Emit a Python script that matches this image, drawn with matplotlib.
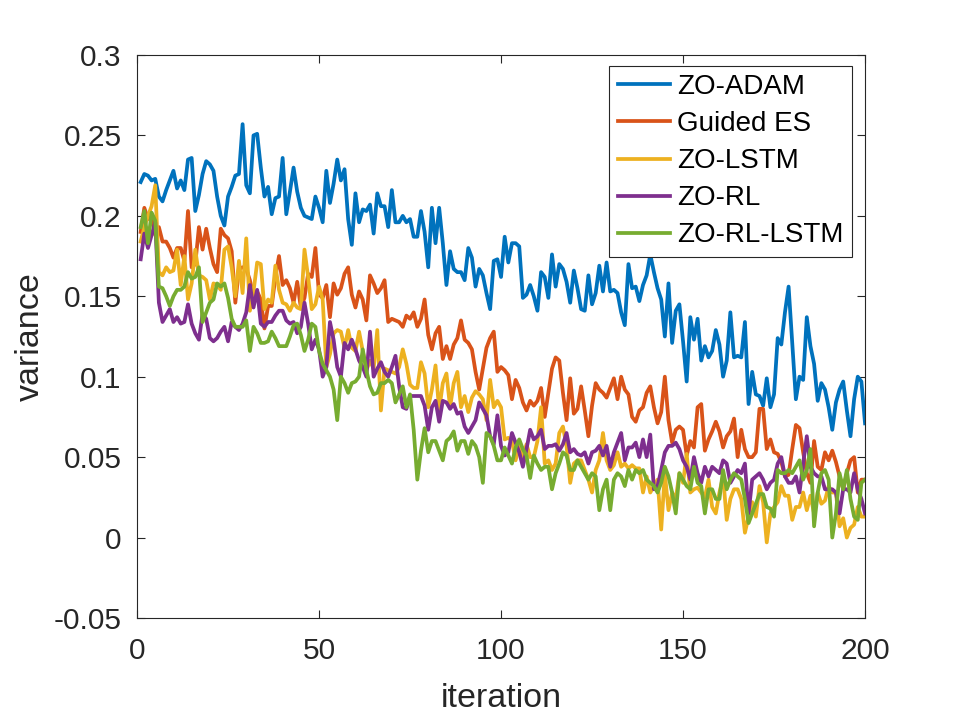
import numpy as np
import matplotlib
matplotlib.use("Agg")
import matplotlib.pyplot as plt
from matplotlib.ticker import FormatStrFormatter

plt.rcParams['font.family'] = ['Liberation Sans', 'DejaVu Sans']

iters = np.arange(1, 201)

zo_adam = [
    0.221, 0.226, 0.225, 0.222, 0.223, 0.212, 0.209, 0.216, 0.222, 0.228,
    0.217, 0.222, 0.216, 0.235, 0.236, 0.203, 0.213, 0.226, 0.234, 0.232,
    0.228, 0.212, 0.200, 0.194, 0.212, 0.218, 0.225, 0.226, 0.257, 0.219,
    0.214, 0.250, 0.251, 0.230, 0.212, 0.218, 0.201, 0.211, 0.212, 0.236,
    0.201, 0.215, 0.230, 0.215, 0.205, 0.200, 0.199, 0.198, 0.212, 0.205,
    0.196, 0.228, 0.208, 0.220, 0.235, 0.222, 0.229, 0.198, 0.182, 0.214,
    0.196, 0.204, 0.203, 0.207, 0.189, 0.214, 0.206, 0.206, 0.193, 0.216,
    0.196, 0.196, 0.200, 0.196, 0.198, 0.187, 0.187, 0.203, 0.190, 0.168,
    0.205, 0.183, 0.205, 0.183, 0.157, 0.178, 0.167, 0.165, 0.165, 0.160,
    0.180, 0.174, 0.156, 0.167, 0.163, 0.152, 0.142, 0.172, 0.173, 0.162,
    0.187, 0.171, 0.183, 0.183, 0.181, 0.149, 0.151, 0.157, 0.150, 0.141,
    0.165, 0.162, 0.149, 0.176, 0.156, 0.170, 0.167, 0.159, 0.146, 0.166,
    0.155, 0.142, 0.141, 0.163, 0.145, 0.152, 0.169, 0.153, 0.171, 0.153,
    0.154, 0.152, 0.140, 0.132, 0.170, 0.155, 0.156, 0.147, 0.157, 0.163,
    0.176, 0.165, 0.155, 0.148, 0.125, 0.158, 0.121, 0.141, 0.145, 0.122,
    0.097, 0.137, 0.123, 0.136, 0.110, 0.119, 0.112, 0.116, 0.129, 0.120,
    0.100, 0.110, 0.140, 0.112, 0.113, 0.112, 0.134, 0.083, 0.103, 0.089,
    0.088, 0.082, 0.099, 0.081, 0.089, 0.124, 0.120, 0.140, 0.156, 0.121,
    0.086, 0.100, 0.098, 0.137, 0.119, 0.108, 0.085, 0.096, 0.092, 0.081,
    0.067, 0.084, 0.092, 0.097, 0.079, 0.063, 0.086, 0.100, 0.097, 0.071,
]

guided_es = [
    0.190, 0.205, 0.198, 0.200, 0.188, 0.193, 0.184, 0.184, 0.180, 0.174,
    0.180, 0.180, 0.172, 0.203, 0.168, 0.170, 0.193, 0.179, 0.192, 0.180,
    0.170, 0.165, 0.192, 0.188, 0.186, 0.178, 0.146, 0.167, 0.168, 0.167,
    0.160, 0.150, 0.153, 0.148, 0.130, 0.144, 0.144, 0.162, 0.175, 0.157,
    0.160, 0.155, 0.146, 0.159, 0.143, 0.149, 0.164, 0.162, 0.180, 0.151,
    0.149, 0.157, 0.137, 0.158, 0.151, 0.155, 0.164, 0.168, 0.151, 0.143,
    0.153, 0.148, 0.135, 0.163, 0.158, 0.152, 0.155, 0.160, 0.134, 0.136,
    0.135, 0.134, 0.131, 0.138, 0.136, 0.140, 0.131, 0.136, 0.148, 0.126,
    0.117, 0.127, 0.131, 0.111, 0.119, 0.111, 0.120, 0.124, 0.135, 0.123,
    0.121, 0.117, 0.103, 0.092, 0.105, 0.118, 0.124, 0.128, 0.103, 0.106,
    0.104, 0.101, 0.086, 0.098, 0.093, 0.084, 0.079, 0.085, 0.082, 0.085,
    0.093, 0.075, 0.090, 0.105, 0.112, 0.110, 0.090, 0.073, 0.099, 0.077,
    0.080, 0.094, 0.079, 0.063, 0.082, 0.096, 0.092, 0.090, 0.087, 0.093,
    0.099, 0.086, 0.100, 0.092, 0.089, 0.075, 0.072, 0.079, 0.081, 0.090,
    0.094, 0.081, 0.071, 0.078, 0.100, 0.073, 0.059, 0.067, 0.069, 0.067,
    0.051, 0.060, 0.056, 0.081, 0.083, 0.054, 0.061, 0.066, 0.072, 0.066,
    0.056, 0.063, 0.066, 0.074, 0.050, 0.067, 0.055, 0.050, 0.050, 0.053,
    0.080, 0.080, 0.055, 0.061, 0.053, 0.052, 0.047, 0.038, 0.039, 0.055,
    0.070, 0.068, 0.053, 0.040, 0.034, 0.060, 0.044, 0.042, 0.053, 0.048,
    0.054, 0.047, 0.038, 0.030, 0.040, 0.048, 0.050, 0.028, 0.036, 0.036,
]

zo_lstm = [
    0.184, 0.193, 0.200, 0.206, 0.219, 0.165, 0.163, 0.168, 0.165, 0.166,
    0.179, 0.157, 0.175, 0.148, 0.158, 0.179, 0.163, 0.162, 0.160, 0.148,
    0.158, 0.157, 0.154, 0.179, 0.181, 0.168, 0.150, 0.172, 0.152, 0.186,
    0.141, 0.153, 0.171, 0.170, 0.142, 0.148, 0.146, 0.169, 0.154, 0.146,
    0.145, 0.141, 0.146, 0.143, 0.142, 0.179, 0.162, 0.142, 0.145, 0.156,
    0.148, 0.106, 0.114, 0.127, 0.129, 0.128, 0.118, 0.129, 0.118, 0.116,
    0.128, 0.116, 0.104, 0.110, 0.105, 0.129, 0.079, 0.105, 0.104, 0.103,
    0.102, 0.106, 0.117, 0.108, 0.095, 0.093, 0.093, 0.109, 0.102, 0.081,
    0.092, 0.107, 0.079, 0.096, 0.102, 0.081, 0.096, 0.103, 0.081, 0.088,
    0.078, 0.087, 0.091, 0.089, 0.086, 0.073, 0.098, 0.081, 0.085, 0.081,
    0.061, 0.062, 0.060, 0.048, 0.058, 0.050, 0.058, 0.050, 0.050, 0.060,
    0.081, 0.046, 0.048, 0.042, 0.046, 0.065, 0.069, 0.057, 0.034, 0.046,
    0.048, 0.048, 0.042, 0.036, 0.028, 0.042, 0.048, 0.065, 0.048, 0.042,
    0.045, 0.053, 0.044, 0.046, 0.043, 0.045, 0.043, 0.043, 0.028, 0.038,
    0.028, 0.032, 0.036, 0.005, 0.040, 0.017, 0.028, 0.024, 0.040, 0.034,
    0.052, 0.028, 0.030, 0.031, 0.028, 0.025, 0.036, 0.019, 0.015, 0.028,
    0.038, 0.011, 0.024, 0.030, 0.030, 0.024, 0.003, 0.013, 0.022, 0.013,
    0.032, 0.022, -0.003, 0.015, 0.019, 0.022, 0.032, 0.026, 0.026, 0.011,
    0.019, 0.019, 0.028, 0.017, 0.026, 0.015, 0.028, 0.021, 0.023, 0.032,
    0.028, 0.028, 0.007, 0.012, 0.000, 0.006, 0.008, 0.019, 0.013, 0.013,
]

zo_rl = [
    0.173, 0.189, 0.180, 0.188, 0.196, 0.146, 0.134, 0.138, 0.142, 0.134,
    0.137, 0.133, 0.134, 0.145, 0.133, 0.127, 0.123, 0.139, 0.136, 0.124,
    0.122, 0.124, 0.128, 0.131, 0.122, 0.134, 0.131, 0.129, 0.133, 0.140,
    0.157, 0.143, 0.154, 0.133, 0.131, 0.134, 0.134, 0.138, 0.141, 0.141,
    0.135, 0.133, 0.134, 0.127, 0.131, 0.146, 0.133, 0.117, 0.123, 0.117,
    0.100, 0.106, 0.134, 0.123, 0.106, 0.100, 0.121, 0.117, 0.123, 0.117,
    0.110, 0.106, 0.100, 0.128, 0.100, 0.105, 0.109, 0.103, 0.100, 0.106,
    0.113, 0.094, 0.081, 0.080, 0.088, 0.088, 0.088, 0.088, 0.082, 0.067,
    0.081, 0.085, 0.072, 0.085, 0.084, 0.080, 0.083, 0.077, 0.078, 0.069,
    0.065, 0.069, 0.073, 0.084, 0.080, 0.076, 0.063, 0.058, 0.076, 0.057,
    0.051, 0.053, 0.065, 0.059, 0.053, 0.044, 0.055, 0.067, 0.061, 0.063,
    0.067, 0.055, 0.057, 0.057, 0.058, 0.054, 0.058, 0.065, 0.053, 0.055,
    0.052, 0.051, 0.053, 0.046, 0.053, 0.054, 0.057, 0.051, 0.057, 0.044,
    0.053, 0.059, 0.065, 0.048, 0.056, 0.056, 0.059, 0.050, 0.061, 0.050,
    0.064, 0.030, 0.032, 0.042, 0.053, 0.057, 0.057, 0.059, 0.055, 0.048,
    0.044, 0.036, 0.050, 0.040, 0.034, 0.044, 0.038, 0.044, 0.042, 0.040,
    0.048, 0.046, 0.034, 0.038, 0.042, 0.040, 0.046, 0.015, 0.036, 0.038,
    0.040, 0.036, 0.030, 0.034, 0.036, 0.046, 0.050, 0.038, 0.034, 0.034,
    0.038, 0.028, 0.046, 0.063, 0.044, 0.040, 0.038, 0.038, 0.030, 0.030,
    0.030, 0.028, 0.015, 0.030, 0.030, 0.028, 0.040, 0.030, 0.024, 0.015,
]

zo_rl_lstm = [
    0.193, 0.203, 0.183, 0.202, 0.197, 0.156, 0.155, 0.150, 0.144, 0.150,
    0.154, 0.154, 0.156, 0.165, 0.161, 0.162, 0.168, 0.134, 0.140, 0.146,
    0.148, 0.158, 0.156, 0.158, 0.149, 0.136, 0.131, 0.131, 0.131, 0.135,
    0.116, 0.131, 0.127, 0.121, 0.121, 0.122, 0.128, 0.124, 0.119, 0.119,
    0.119, 0.125, 0.132, 0.133, 0.126, 0.116, 0.123, 0.133, 0.131, 0.116,
    0.108, 0.104, 0.100, 0.092, 0.073, 0.100, 0.096, 0.090, 0.096, 0.097,
    0.100, 0.117, 0.104, 0.094, 0.089, 0.090, 0.096, 0.096, 0.098, 0.096,
    0.084, 0.089, 0.094, 0.081, 0.089, 0.067, 0.036, 0.054, 0.068, 0.053,
    0.060, 0.060, 0.054, 0.048, 0.060, 0.062, 0.066, 0.054, 0.060, 0.060,
    0.052, 0.060, 0.057, 0.050, 0.034, 0.065, 0.063, 0.057, 0.048, 0.048,
    0.056, 0.051, 0.046, 0.056, 0.061, 0.055, 0.051, 0.037, 0.051, 0.046,
    0.042, 0.044, 0.044, 0.030, 0.040, 0.046, 0.053, 0.051, 0.042, 0.042,
    0.048, 0.044, 0.040, 0.036, 0.040, 0.038, 0.017, 0.030, 0.036, 0.017,
    0.036, 0.040, 0.038, 0.032, 0.042, 0.036, 0.042, 0.040, 0.042, 0.036,
    0.034, 0.032, 0.028, 0.034, 0.044, 0.038, 0.028, 0.015, 0.040, 0.036,
    0.032, 0.030, 0.044, 0.034, 0.032, 0.015, 0.030, 0.030, 0.024, 0.024,
    0.042, 0.030, 0.036, 0.040, 0.038, 0.036, 0.024, 0.009, 0.015, 0.021,
    0.027, 0.027, 0.019, 0.018, 0.013, 0.042, 0.040, 0.040, 0.042, 0.040,
    0.044, 0.048, 0.036, 0.042, 0.055, 0.007, 0.028, 0.040, 0.042, 0.036,
    0.000, 0.015, 0.040, 0.030, 0.042, 0.024, 0.013, 0.011, 0.034, 0.036,
]

series = [zo_adam, guided_es, zo_lstm, zo_rl, zo_rl_lstm]
labels = ['ZO-ADAM', 'Guided ES', 'ZO-LSTM', 'ZO-RL', 'ZO-RL-LSTM']
colors = ['#0072BD', '#D95319', '#EDB120', '#7E2F8E', '#77AC30']

fig = plt.figure(figsize=(9.55, 7.16), dpi=100)
ax = fig.add_axes([0.1435, 0.1369, 0.7623, 0.7863])

for y, lab, c in zip(series, labels, colors):
    ax.plot(iters, y, color=c, lw=2.7, label=lab)

ax.set_xlim(0, 200)
ax.set_ylim(-0.05, 0.3)
ax.set_xticks([0, 50, 100, 150, 200])
ax.set_yticks(np.arange(-0.05, 0.3001, 0.05))
ax.yaxis.set_major_formatter(FormatStrFormatter('%g'))

gray = '#262626'
for s in ax.spines.values():
    s.set_color(gray)
    s.set_linewidth(0.8)
ax.tick_params(direction='in', length=6, width=0.8, colors=gray,
               labelsize=21.5, top=True, right=True)
ax.tick_params(axis='x', pad=14)
ax.tick_params(axis='y', pad=11)
ax.set_xlabel('iteration', fontsize=24.5, color=gray, labelpad=13)
ax.set_ylabel('variance', fontsize=24.5, color=gray, labelpad=6)

leg = ax.legend(loc='upper right', bbox_to_anchor=(0.982, 0.981), fontsize=20,
                frameon=True, fancybox=False, framealpha=1, edgecolor=gray,
                handlelength=1.9, handletextpad=0.25, labelspacing=0.4,
                borderpad=0.3, borderaxespad=0)
leg.get_frame().set_linewidth(0.8)

fig.savefig('out.png', dpi=100)
